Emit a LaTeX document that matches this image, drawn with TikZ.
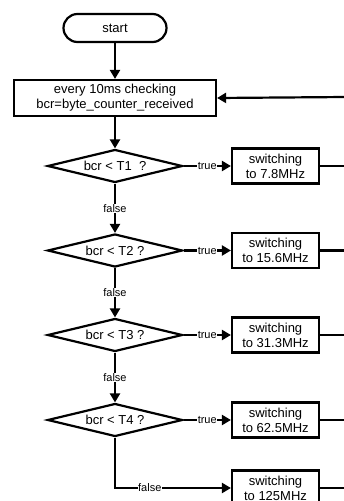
\documentclass[tikz,border=0pt]{standalone}
\usepackage{fontspec}
\setmainfont{Liberation Sans}
\usetikzlibrary{shapes.geometric,arrows.meta}

\tikzset{
  flow/.style={line width=2.2pt, draw=black},
  arr/.style={flow, -{Triangle[length=9pt,width=10pt]}},
  terminal/.style={flow, rectangle, rounded corners=14pt, minimum width=103pt,
    minimum height=28pt, inner sep=0pt, font=\fontsize{13}{15}\selectfont},
  process/.style={flow, rectangle, inner sep=0pt, align=center,
    font=\fontsize{13}{15}\selectfont},
  decision/.style={flow, diamond, shape aspect=4, inner sep=0pt,
    minimum width=135pt, minimum height=33pt, font=\fontsize{13}{15}\selectfont},
  switchbox/.style={process, minimum width=87pt, minimum height=35pt},
  lbl/.style={fill=white, inner sep=0.6pt, font=\fontsize{11}{12}\selectfont}
}

\begin{document}
\begin{tikzpicture}[x=1pt,y=-1pt]
  \useasboundingbox (0,0) rectangle (344,501);
  \clip (0,0) rectangle (344,501);

  % main column
  \node[terminal] (start) at (115,28) {start};
  \node[process, minimum width=202pt, minimum height=36pt] (check) at (115,98)
    {every 10ms checking\\bcr=byte\_counter\_received};
  \node[decision] (d1) at (115,166) {bcr < T1\ \ ?};
  \node[decision] (d2) at (115,250.5) {bcr < T2 ?};
  \node[decision] (d3) at (115,335) {bcr < T3 ?};
  \node[decision] (d4) at (115,420) {bcr < T4 ?};

  % frequency switching column
  \node[switchbox] (s1) at (275.5,166) {switching\\to 7.8MHz};
  \node[switchbox] (s2) at (275.5,250.5) {switching\\to 15.6MHz};
  \node[switchbox] (s3) at (275.5,335) {switching\\to 31.3MHz};
  \node[switchbox] (s4) at (275.5,420) {switching\\to 62.5MHz};
  \node[switchbox] (s5) at (275.5,488) {switching\\to 125MHz};

  % loop-back line entering from the right
  \coordinate (back) at (346,97);
  \coordinate (o1) at (346,166);
  \coordinate (o2) at (346,250.5);
  \coordinate (o3) at (346,335);
  \coordinate (o4) at (346,420);
  \coordinate (o5) at (346,488);

  \draw[arr] (start) -- (check);
  \draw[arr] (back) -- (check.east);
  \draw[arr] (check) -- (d1);

  % true branches
  \foreach \i in {1,2,3,4} {
    \draw[arr] (d\i.east) -- node[lbl] {true} (s\i.west);
    \draw[flow] (s\i.east) -- (o\i);
  }
  \draw[flow] (s5.east) -- (o5);

  % false branches
  \draw[arr] (d1.south) -- node[lbl] {false} (d2.north);
  \draw[arr] (d2.south) -- node[lbl] {false} (d3.north);
  \draw[arr] (d3.south) -- node[lbl] {false} (d4.north);
  \draw[arr] (d4.south) |- node[lbl, pos=0.65] {false} (s5.west);
\end{tikzpicture}
\end{document}
